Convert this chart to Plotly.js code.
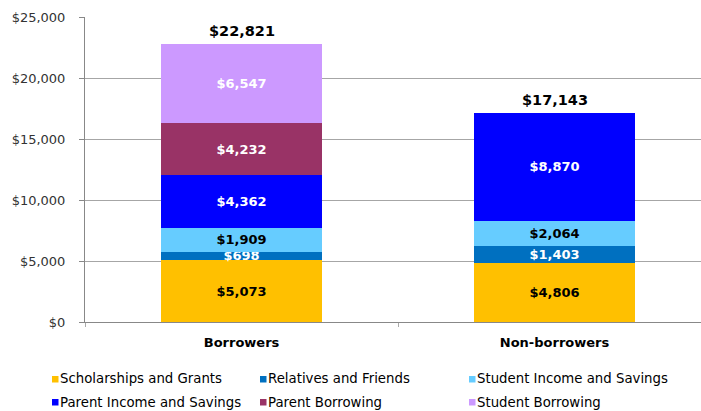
<!DOCTYPE html>
<html>
<head>
<meta charset="utf-8">
<script src="https://cdn.plot.ly/plotly-3.0.1.min.js"></script>
<style>html,body{margin:0;padding:0;background:#fff;}#chart{width:701px;height:411px;}</style>
</head>
<body>
<div id="chart"></div>
<script>
const categories = ["Borrowers", "Non-borrowers"];
const seriesNames = ["Scholarships and Grants", "Relatives and Friends", "Student Income and Savings",
                     "Parent Income and Savings", "Parent Borrowing", "Student Borrowing"];
const scholarships = [5073, 4806];
const relatives = [698, 1403];
const studentIncome = [1909, 2064];
const parentIncome = [4362, 8870];
const parentBorrowing = [4232, null];
const studentBorrowing = [6547, null];
const yTickValues = [0, 5000, 10000, 15000, 20000, 25000];
const yTickLabels = ["$0", "$5,000", "$10,000", "$15,000", "$20,000", "$25,000"];

const seriesValues = [scholarships, relatives, studentIncome, parentIncome, parentBorrowing, studentBorrowing];
const colors = ["#FFC000", "#0070C0", "#66CCFF", "#0000FF", "#993366", "#CC99FF"];
const textColors = ["#000000", "#FFFFFF", "#000000", "#FFFFFF", "#FFFFFF", "#FFFFFF"];
const fmt = v => (v === null || v === undefined) ? "" : "$" + v.toLocaleString("en-US");

const W = 701, H = 411;
const M = {l: 85, r: 0, t: 17, b: 89};
const plotW = W - M.l - M.r, plotH = H - M.t - M.b;
const px2x = px => (px - M.l) / plotW;
const py2y = py => (H - M.b - py) / plotH;

const traces = seriesValues.map((vals, i) => ({
  type: "bar",
  name: seriesNames[i],
  showlegend: false,
  x: categories,
  y: vals,
  width: 0.517,
  marker: {color: colors[i], line: {width: 0}},
  text: vals.map(fmt),
  textposition: "inside",
  insidetextanchor: "middle",
  constraintext: "none",
  textangle: 0,
  textfont: {family: "DejaVu Sans", size: 13, color: textColors[i], weight: "bold"},
  hoverinfo: "skip"
}));

const totals = categories.map((c, j) => seriesValues.reduce((s, arr) => s + (arr[j] || 0), 0));
const annotations = categories.map((c, j) => ({
  x: c,
  y: totals[j],
  xref: "x",
  yref: "y",
  text: fmt(totals[j]),
  showarrow: false,
  yanchor: "bottom",
  yshift: 3,
  font: {family: "DejaVu Sans", size: 14.5, color: "#000000", weight: "bold"}
}));

// legend drawn as a 3-column, 2-row key
const legendColsPx = [52, 260, 469];
const legendRowsPx = [379, 402];
const shapes = [];
seriesNames.forEach((name, i) => {
  const col = i % 3, row = Math.floor(i / 3);
  const mx = legendColsPx[col], my = legendRowsPx[row];
  shapes.push({
    type: "rect", xref: "paper", yref: "paper",
    x0: px2x(mx), x1: px2x(mx + 6.5),
    y0: py2y(my + 3.5), y1: py2y(my - 3),
    fillcolor: colors[i], line: {width: 0}
  });
  annotations.push({
    xref: "paper", yref: "paper",
    x: px2x(mx + 6), y: py2y(my),
    xanchor: "left", yanchor: "middle",
    text: name, showarrow: false,
    font: {family: "DejaVu Sans", size: 13.3, color: "#000000"}
  });
});

const layout = {
  width: W,
  height: H,
  margin: M,
  paper_bgcolor: "#ffffff",
  plot_bgcolor: "#ffffff",
  barmode: "stack",
  showlegend: false,
  font: {family: "DejaVu Sans", color: "#000000"},
  annotations: annotations,
  shapes: shapes,
  xaxis: {
    range: [-0.5, 1.468],
    showgrid: false,
    showline: true,
    linecolor: "#888888",
    linewidth: 1,
    ticks: "outside",
    tickson: "boundaries",
    ticklen: 4,
    tickcolor: "#aaaaaa",
    ticklabelstandoff: 8,
    tickfont: {family: "DejaVu Sans", size: 13, color: "#000000", weight: "bold"},
    fixedrange: true
  },
  yaxis: {
    range: [0, 25000],
    tickvals: yTickValues,
    ticktext: yTickLabels,
    showgrid: true,
    gridcolor: "#a6a6a6",
    gridwidth: 1,
    showline: true,
    linecolor: "#888888",
    linewidth: 1,
    ticks: "outside",
    ticklen: 5,
    tickcolor: "#888888",
    ticklabelstandoff: 11,
    zeroline: false,
    tickfont: {family: "DejaVu Sans", size: 13, color: "#333333"},
    fixedrange: true
  }
};

Plotly.newPlot("chart", traces, layout, {displayModeBar: false, staticPlot: true});
</script>
</body>
</html>
